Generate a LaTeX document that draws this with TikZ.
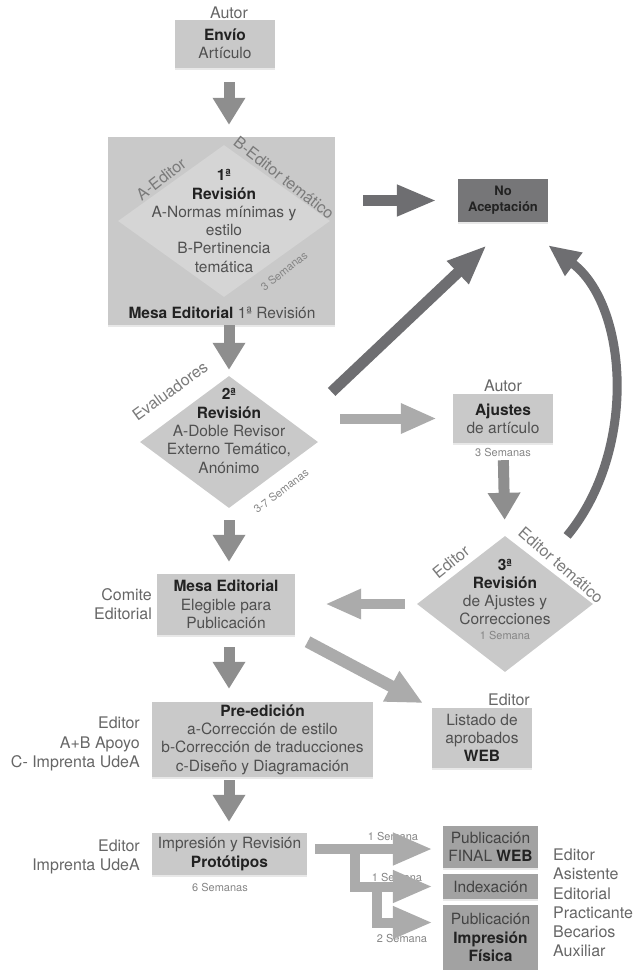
\documentclass[tikz,border=0pt]{standalone}
\usepackage{fontspec}
\setmainfont{TeX Gyre Heros}
\usetikzlibrary{arrows.meta,shapes.geometric,calc,shadows}

\definecolor{boxgray}{HTML}{C9C9C9}
\definecolor{innergray}{HTML}{D5D5D5}
\definecolor{noaccgray}{HTML}{767678}
\definecolor{pubgray}{HTML}{A2A2A2}
\definecolor{txtgray}{HTML}{505050}
\definecolor{boldgray}{HTML}{222222}
\definecolor{lblgray}{HTML}{666666}
\definecolor{rotgray}{HTML}{7A7A7A}
\definecolor{smallgray}{HTML}{858585}
\definecolor{arrowmid}{HTML}{8E8E8E}
\definecolor{arrowdark}{HTML}{6E6E71}
\definecolor{arrowlight}{HTML}{ABABAB}

\newcommand\mainsz{\fontsize{15.5}{18.3}\selectfont}
\newcommand\lblsz{\fontsize{16}{19.2}\selectfont}
\newcommand\bld[1]{\textcolor{boldgray}{\bfseries #1}}

\tikzset{
  box/.style={fill=boxgray, inner sep=0pt, align=center, text=txtgray, font=\mainsz,
    drop shadow={opacity=0.18, shadow xshift=0pt, shadow yshift=-1.5pt}},
  pubbox/.style={box, fill=pubgray, text=boldgray!85!white},
  dmd/.style={diamond, fill=boxgray, inner sep=0pt},
  txt/.style={align=center, text=txtgray, font=\mainsz, inner sep=0pt},
  lbl/.style={align=center, text=lblgray, font=\lblsz, inner sep=0pt},
  rotlbl/.style={text=rotgray, font=\fontsize{16}{19}\selectfont, inner sep=0pt},
  smalllbl/.style={text=smallgray, font=\fontsize{11}{13}\selectfont, inner sep=0pt},
  dnarrow/.style={draw=arrowmid, line width=11pt, -{Triangle[width=31pt,length=27pt]}},
  rejarrow/.style={draw=arrowdark, line width=11pt, -{Triangle[width=29pt,length=40pt]}},
  fwdarrow/.style={draw=arrowlight, line width=10pt, -{Triangle[width=28pt,length=36pt]}},
  branch/.style={draw=arrowlight, line width=10pt, line join=miter, -{Triangle[width=30pt,length=40pt]}}
}

\begin{document}
\begin{tikzpicture}[x=1pt,y=-1pt]
  \useasboundingbox (0,0) rectangle (638,970);

  % sending
  \node[lbl] (autor1) at (229,13) {Autor};
  \node[box, minimum width=100pt, minimum height=48pt] (envio) at (225,44) {\bld{Envío}\\Artículo};

  % first revision
  \node[box, minimum width=227pt, minimum height=188pt] (box1) at (221.5,231) {};
  \node[dmd, fill=innergray, minimum width=212pt, minimum height=152pt] (rev1) at (224,221) {};
  \node[txt] (rev1txt) at (224,221) {\bld{1ª}\\\bld{Revisión}\\A-Normas mínimas y\\estilo\\B-Pertinencia\\temática};
  \node[rotlbl, rotate=38] (rev1a) at (161,179) {A-Editor};
  \node[rotlbl, rotate=-38] (rev1b) at (284,178) {B-Editor temático};
  \node[smalllbl, rotate=38] (rev1t) at (284,271) {3 Semanas};
  \node[txt] (mesa1) at (222,313) {\bld{Mesa Editorial} 1ª Revisión};

  % rejection
  \node[box, fill=noaccgray, minimum width=90pt, minimum height=43pt, text=boldgray,
    font=\fontsize{13}{16}\selectfont\bfseries] (noacc) at (503,200.5) {No\\Aceptación};

  % second revision
  \node[dmd, minimum width=178pt, minimum height=132pt] (rev2) at (229,442) {};
  \node[txt] (rev2txt) at (229,431) {\bld{2ª}\\\bld{Revisión}\\A-Doble Revisor\\Externo Temático,\\Anónimo};
  \node[rotlbl, rotate=36] (rev2a) at (170,391) {Evaluadores};
  \node[smalllbl, rotate=37] (rev2t) at (281,491) {3-7 Semanas};

  % author adjustments
  \node[lbl] (autor2) at (503,386) {Autor};
  \node[box, minimum width=100pt, minimum height=49pt] (ajustes) at (503,418.5) {\bld{Ajustes}\\de artículo};
  \node[smalllbl] (ajustest) at (503,452) {3 Semanas};

  % third revision
  \node[dmd, minimum width=176pt, minimum height=136pt] (rev3) at (505,604) {};
  \node[txt] (rev3txt) at (505,592) {\bld{3ª}\\\bld{Revisión}\\de Ajustes y\\Correcciones};
  \node[smalllbl] (rev3t) at (505,635) {1 Semana};
  \node[rotlbl, rotate=39] (rev3a) at (451,562) {Editor};
  \node[rotlbl, rotate=-41] (rev3b) at (561,565) {Editor temático};

  % editorial board
  \node[lbl, align=right, anchor=east] (comite) at (152,604) {Comite\\Editorial};
  \node[box, minimum width=138pt, minimum height=61pt] (mesa2) at (226,604.5) {\bld{Mesa Editorial}\\Elegible para\\Publicación};

  % approved list
  \node[lbl, anchor=east] (editor1) at (530,700) {Editor};
  \node[box, minimum width=100pt, minimum height=60pt] (listado) at (482,738) {Listado de\\aprobados\\\bld{WEB}};

  % pre-edition
  \node[lbl, align=right, anchor=east] (preq) at (140,744) {Editor\\A+B Apoyo\\C- Imprenta UdeA};
  \node[box, minimum width=221pt, minimum height=75pt] (pre) at (262.5,739.5) {\bld{Pre-edición}\\a-Corrección de estilo\\b-Corrección de traducciones\\c-Diseño y Diagramación};

  % prototypes
  \node[lbl, align=right, anchor=east] (protoq) at (140,857) {Editor\\Imprenta UdeA};
  \node[box, minimum width=155pt, minimum height=42pt] (proto) at (229.5,854) {Impresión y Revisión\\\bld{Protótipos}};
  \node[smalllbl] (protot) at (220,887) {6 Semanas};

  % publication
  \node[pubbox, minimum width=95pt, minimum height=42pt] (pubweb) at (490.5,847) {Publicación\\FINAL \bld{WEB}};
  \node[pubbox, minimum width=95pt, minimum height=25pt] (index) at (490.5,886.5) {Indexación};
  \node[pubbox, minimum width=95pt, minimum height=65pt] (fisica) at (490.5,937.5) {Publicación\\\bld{Impresión}\\\bld{Física}};
  \node[lbl, align=left, anchor=west] (pubq) at (553,903) {Editor\\Asistente\\Editorial\\Practicante\\Becarios\\Auxiliar};
  \node[smalllbl] (week1) at (393,836) {1 Semana};
  \node[smalllbl] (week2) at (397,877) {1 Semana};
  \node[smalllbl] (week3) at (402,938) {2 Semana};

  % arrows
  \draw[dnarrow, shorten <=14pt, shorten >=12pt] (envio.south -| rev2.north) -- (box1.north -| rev2.north);
  \draw[dnarrow, shorten >=6pt] (box1.south -| rev2.north) -- (rev2.north);
  \draw[dnarrow, shorten <=12pt, shorten >=12pt] (rev2.south) -- (mesa2.north -| rev2.south);
  \draw[dnarrow, shorten <=12pt, shorten >=13pt] (mesa2.south -| rev2.south) -- (pre.north -| rev2.south);
  \draw[dnarrow, shorten <=3pt, shorten >=11pt] (pre.south -| rev2.south) -- (proto.north -| rev2.south);
  \draw[dnarrow, shorten <=17pt, shorten >=16pt] (ajustes.south) -- (rev3.north);

  \draw[rejarrow, shorten <=28pt, shorten >=21pt] (box1.east |- noacc.west) -- (noacc.west);
  \draw[rejarrow] ($(rev2.north east)+(58,-17)$) -- ($(noacc.south west)+(29,23)$);
  \draw[rejarrow, line width=9pt, -{Triangle[width=27pt,length=32pt]}] ($(rev3.north east)+(18,-34)$)
    .. controls (638,450) and (628,305) .. ($(noacc.south east)+(0,23)$);

  \draw[fwdarrow, shorten <=22pt, shorten >=16pt] (rev2.east |- ajustes.west) -- (ajustes.west);
  \draw[fwdarrow, shorten <=12pt, shorten >=30pt] (rev3.west) -- (mesa2.east |- rev3.west);
  \draw[fwdarrow, line width=12pt, -{Triangle[width=32pt,length=36pt]}, shorten <=14pt, shorten >=10pt] (mesa2.south east) -- (listado.north west);

  \draw[branch, shorten <=8pt, shorten >=10pt] ([yshift=5pt]proto.east) -- ([yshift=5pt]proto.east -| pubweb.west);
  \draw[branch, shorten >=10pt] ($(proto.east)+(48,-5)$) |- (index.west);
  \draw[branch, shorten >=10pt] ($(proto.east |- index.west)+(70,0)$) |- ($(fisica.west)+(0,-15)$);
\end{tikzpicture}
\end{document}
